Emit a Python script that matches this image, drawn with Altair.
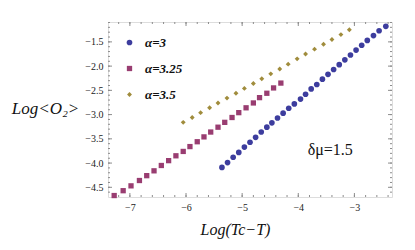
import altair as alt
import pandas as pd

series_labels = ["α=3", "α=3.25", "α=3.5"]
series_colors = ["#3d3d9e", "#993d71", "#a08c3c"]
series_shapes = ["circle", "square", "diamond"]
series_sizes = [32, 24, 52]

a3_x = [-5.36, -5.26, -5.16, -5.06, -4.96, -4.86, -4.76, -4.66, -4.56, -4.47,
        -4.37, -4.27, -4.17, -4.07, -3.96, -3.87, -3.77, -3.67, -3.57, -3.47,
        -3.37, -3.27, -3.17, -3.07, -2.97, -2.87, -2.77, -2.66, -2.56, -2.44]
a3_y = [-4.09, -3.99, -3.88, -3.78, -3.67, -3.57, -3.47, -3.36, -3.26, -3.17,
        -3.07, -2.97, -2.87, -2.78, -2.68, -2.58, -2.47, -2.38, -2.27, -2.17,
        -2.07, -1.97, -1.87, -1.77, -1.67, -1.57, -1.47, -1.37, -1.27, -1.18]

a325_x = [-7.28, -7.12, -6.98, -6.83, -6.70, -6.57, -6.44, -6.31, -6.18, -6.05,
          -5.93, -5.80, -5.68, -5.56, -5.43, -5.31, -5.18, -5.06, -4.93, -4.80,
          -4.69, -4.56, -4.44, -4.31]
a325_y = [-4.67, -4.57, -4.47, -4.36, -4.26, -4.16, -4.05, -3.95, -3.85, -3.76,
          -3.66, -3.56, -3.46, -3.36, -3.26, -3.16, -3.06, -2.96, -2.86, -2.76,
          -2.65, -2.56, -2.45, -2.35]

a35_x = [-6.05, -5.89, -5.74, -5.58, -5.43, -5.27, -5.11, -4.96, -4.80, -4.65,
         -4.49, -4.33, -4.18, -4.02, -3.87, -3.71, -3.55, -3.40, -3.24, -3.09]
a35_y = [-3.16, -3.06, -2.96, -2.86, -2.76, -2.66, -2.56, -2.46, -2.36, -2.26,
         -2.16, -2.06, -1.96, -1.85, -1.75, -1.65, -1.55, -1.45, -1.35, -1.25]

x_major = [-7, -6, -5, -4, -3]
x_minor = [-7.2, -7.0, -6.8, -6.6, -6.4, -6.2, -6.0, -5.8, -5.6, -5.4, -5.2, -5.0,
           -4.8, -4.6, -4.4, -4.2, -4.0, -3.8, -3.6, -3.4, -3.2, -3.0, -2.8, -2.6, -2.4]
y_major = [-4.5, -4.0, -3.5, -3.0, -2.5, -2.0, -1.5]
y_minor = [-4.6, -4.5, -4.4, -4.3, -4.2, -4.1, -4.0, -3.9, -3.8, -3.7, -3.6, -3.5,
           -3.4, -3.3, -3.2, -3.1, -3.0, -2.9, -2.8, -2.7, -2.6, -2.5, -2.4, -2.3,
           -2.2, -2.1, -2.0, -1.9, -1.8, -1.7, -1.6, -1.5, -1.4, -1.3, -1.2, -1.1]

x_domain = [-7.39, -2.33]
y_domain = [-4.70, -1.09]

note_text = ["δμ=1.5"]
note_x = [-3.43]
note_y = [-3.73]

W, H = 284, 175
MAJOR, MINOR = 4, 2

rows = []
for lab, xs, ys in zip(series_labels, [a3_x, a325_x, a35_x], [a3_y, a325_y, a35_y]):
    for xv, yv in zip(xs, ys):
        rows.append({"series": lab, "x": xv, "y": yv})
df = pd.DataFrame(rows)
note_df = pd.DataFrame({"t": note_text, "x": note_x, "y": note_y})
xmaj_df = pd.DataFrame({"x": x_major})
xmin_df = pd.DataFrame({"x": x_minor})
ymaj_df = pd.DataFrame({"y": y_major})
ymin_df = pd.DataFrame({"y": y_minor})

xscale = alt.Scale(domain=x_domain, nice=False, zero=False)
yscale = alt.Scale(domain=y_domain, nice=False, zero=False)

SERIF = "Liberation Serif, Times New Roman, serif"
TICK_COLOR = "#8c8c8c"

xaxis = alt.Axis(values=x_major, format="d", ticks=False, domain=False, grid=False,
                 labelPadding=5, labelFont=SERIF, labelFontSize=10, labelColor="#222",
                 title="Log(Tc−T)", titleX=127, titleY=32, titleAlign="center",
                 titleBaseline="middle", titleFont=SERIF, titleFontSize=16,
                 titleFontStyle="italic", titleFontWeight="normal", titleColor="#111")
yaxis = alt.Axis(values=y_major, format=".1f", ticks=False, domain=False, grid=False,
                 labelPadding=5, labelFont=SERIF, labelFontSize=10, labelColor="#222",
                 title="Log<O₂>", titleAngle=0, titleX=-63, titleY=86,
                 titleAlign="center", titleBaseline="middle", titleFont=SERIF,
                 titleFontSize=17, titleFontStyle="italic", titleFontWeight="normal",
                 titleColor="#111")

legend = alt.Legend(orient="none", legendX=15, legendY=14, title=None,
                    labelFont=SERIF, labelFontSize=13, labelFontStyle="italic",
                    labelFontWeight="bold", labelColor="#111", labelOffset=9,
                    rowPadding=12, symbolStrokeWidth=0)

points = alt.Chart(df).mark_point(filled=True, opacity=1, strokeWidth=0).encode(
    x=alt.X("x:Q", scale=xscale, axis=xaxis),
    y=alt.Y("y:Q", scale=yscale, axis=yaxis),
    color=alt.Color("series:O", scale=alt.Scale(domain=series_labels, range=series_colors), legend=legend),
    shape=alt.Shape("series:O", scale=alt.Scale(domain=series_labels, range=series_shapes), legend=legend),
    size=alt.Size("series:O", scale=alt.Scale(domain=series_labels, range=series_sizes), legend=legend),
)


def xticks(data, length, top):
    if top:
        yy, yy2 = alt.value(0), alt.value(length)
    else:
        yy, yy2 = alt.value(H), alt.value(H - length)
    return alt.Chart(data).mark_rule(color=TICK_COLOR, strokeWidth=1).encode(
        x=alt.X("x:Q", scale=xscale, axis=xaxis), y=yy, y2=yy2)


def yticks(data, length, right):
    if right:
        xx, xx2 = alt.value(W), alt.value(W - length)
    else:
        xx, xx2 = alt.value(0), alt.value(length)
    return alt.Chart(data).mark_rule(color=TICK_COLOR, strokeWidth=1).encode(
        y=alt.Y("y:Q", scale=yscale, axis=yaxis), x=xx, x2=xx2)


ticks = [
    xticks(xmin_df, MINOR, False), xticks(xmaj_df, MAJOR, False),
    xticks(xmin_df, MINOR, True), xticks(xmaj_df, MAJOR, True),
    yticks(ymin_df, MINOR, False), yticks(ymaj_df, MAJOR, False),
    yticks(ymin_df, MINOR, True), yticks(ymaj_df, MAJOR, True),
]

note = alt.Chart(note_df).mark_text(font=SERIF, fontSize=16, color="#111").encode(
    x=alt.X("x:Q", scale=xscale, axis=xaxis),
    y=alt.Y("y:Q", scale=yscale, axis=yaxis),
    text="t:N",
)

chart = alt.layer(points, *ticks, note).properties(
    width=W, height=H,
    autosize=alt.AutoSizeParams(type="none"),
    padding={"left": 100, "top": 14, "right": 15, "bottom": 45},
).configure_view(
    stroke="#a0a0a0", strokeWidth=1
).configure(background="white")

chart.save("out.html", embed_options={"renderer": "svg", "actions": False})
